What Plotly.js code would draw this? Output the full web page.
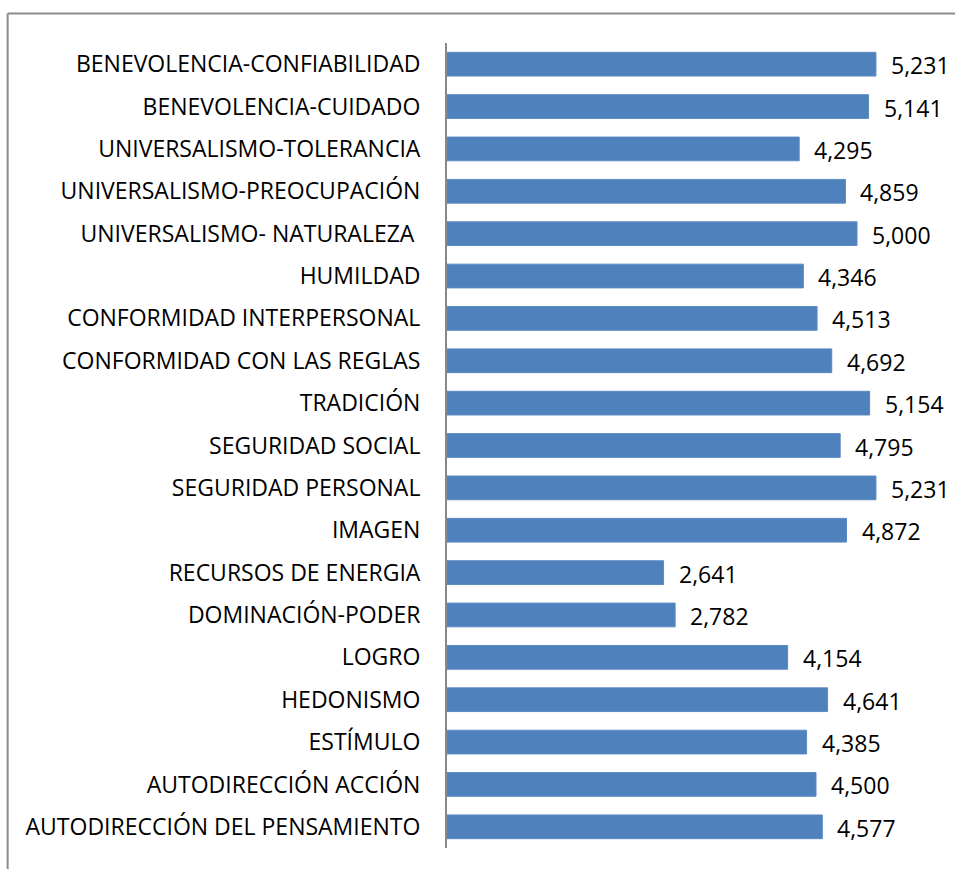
<!DOCTYPE html>
<html>
<head>
<meta charset="utf-8">
<script src="https://cdn.plot.ly/plotly-3.0.1.min.js"></script>
<style>
  html, body { margin: 0; padding: 0; background: #fff; }
  #chart { width: 955px; height: 869px; }
</style>
</head>
<body>
<div id="chart"></div>
<script>
const categories = [
  "BENEVOLENCIA-CONFIABILIDAD",
  "BENEVOLENCIA-CUIDADO",
  "UNIVERSALISMO-TOLERANCIA",
  "UNIVERSALISMO-PREOCUPACIÓN",
  "UNIVERSALISMO- NATURALEZA ",
  "HUMILDAD",
  "CONFORMIDAD INTERPERSONAL",
  "CONFORMIDAD CON LAS REGLAS",
  "TRADICIÓN",
  "SEGURIDAD SOCIAL",
  "SEGURIDAD PERSONAL",
  "IMAGEN",
  "RECURSOS DE ENERGIA",
  "DOMINACIÓN-PODER",
  "LOGRO",
  "HEDONISMO",
  "ESTÍMULO",
  "AUTODIRECCIÓN ACCIÓN",
  "AUTODIRECCIÓN DEL PENSAMIENTO"
];
const values = [
  5.231, 5.141, 4.295, 4.859, 5.000, 4.346, 4.513, 4.692, 5.154, 4.795,
  5.231, 4.872, 2.641, 2.782, 4.154, 4.641, 4.385, 4.500, 4.577
];
const valueLabels = values.map(v => v.toFixed(3).replace('.', ','));

const FONT = '"Open Sans", "Liberation Sans", sans-serif';

const trace = {
  type: 'bar',
  orientation: 'h',
  y: categories,
  x: values,
  marker: { color: '#4f81bd', line: { color: '#5b8ac4', width: 1 } },
  hoverinfo: 'x+y'
};

const annotations = values.map((v, i) => ({
  x: v,
  y: categories[i],
  xref: 'x',
  yref: 'y',
  text: valueLabels[i],
  showarrow: false,
  xanchor: 'left',
  yanchor: 'middle',
  xshift: 13,
  yshift: -1,
  font: { family: FONT, size: 23, color: '#000000' }
}));

const layout = {
  width: 955,
  height: 869,
  margin: { l: 447, r: 16, t: 43, b: 21, pad: 0 },
  paper_bgcolor: '#ffffff',
  plot_bgcolor: '#ffffff',
  showlegend: false,
  bargap: 0.44,
  xaxis: {
    range: [0, 6],
    showgrid: false,
    zeroline: false,
    showline: false,
    showticklabels: false,
    ticks: '',
    fixedrange: true
  },
  yaxis: {
    type: 'category',
    autorange: 'reversed',
    showgrid: false,
    zeroline: false,
    showline: true,
    linecolor: '#888888',
    linewidth: 2,
    ticks: '',
    ticklabelstandoff: 20,
    tickfont: { family: FONT, size: 23, color: '#000000' },
    fixedrange: true
  },
  annotations: annotations,
  shapes: [
    {
      type: 'line', xref: 'paper', yref: 'paper',
      x0: -0.893, x1: 1.2, y0: 1.0366, y1: 1.0366,
      line: { color: '#8c8c8c', width: 2 }
    },
    {
      type: 'line', xref: 'paper', yref: 'paper',
      x0: -0.893, x1: -0.893, y0: 1.0366, y1: -0.1,
      line: { color: '#8c8c8c', width: 2 }
    }
  ]
};

Plotly.newPlot('chart', [trace], layout, { displayModeBar: false, staticPlot: true });
</script>
</body>
</html>
